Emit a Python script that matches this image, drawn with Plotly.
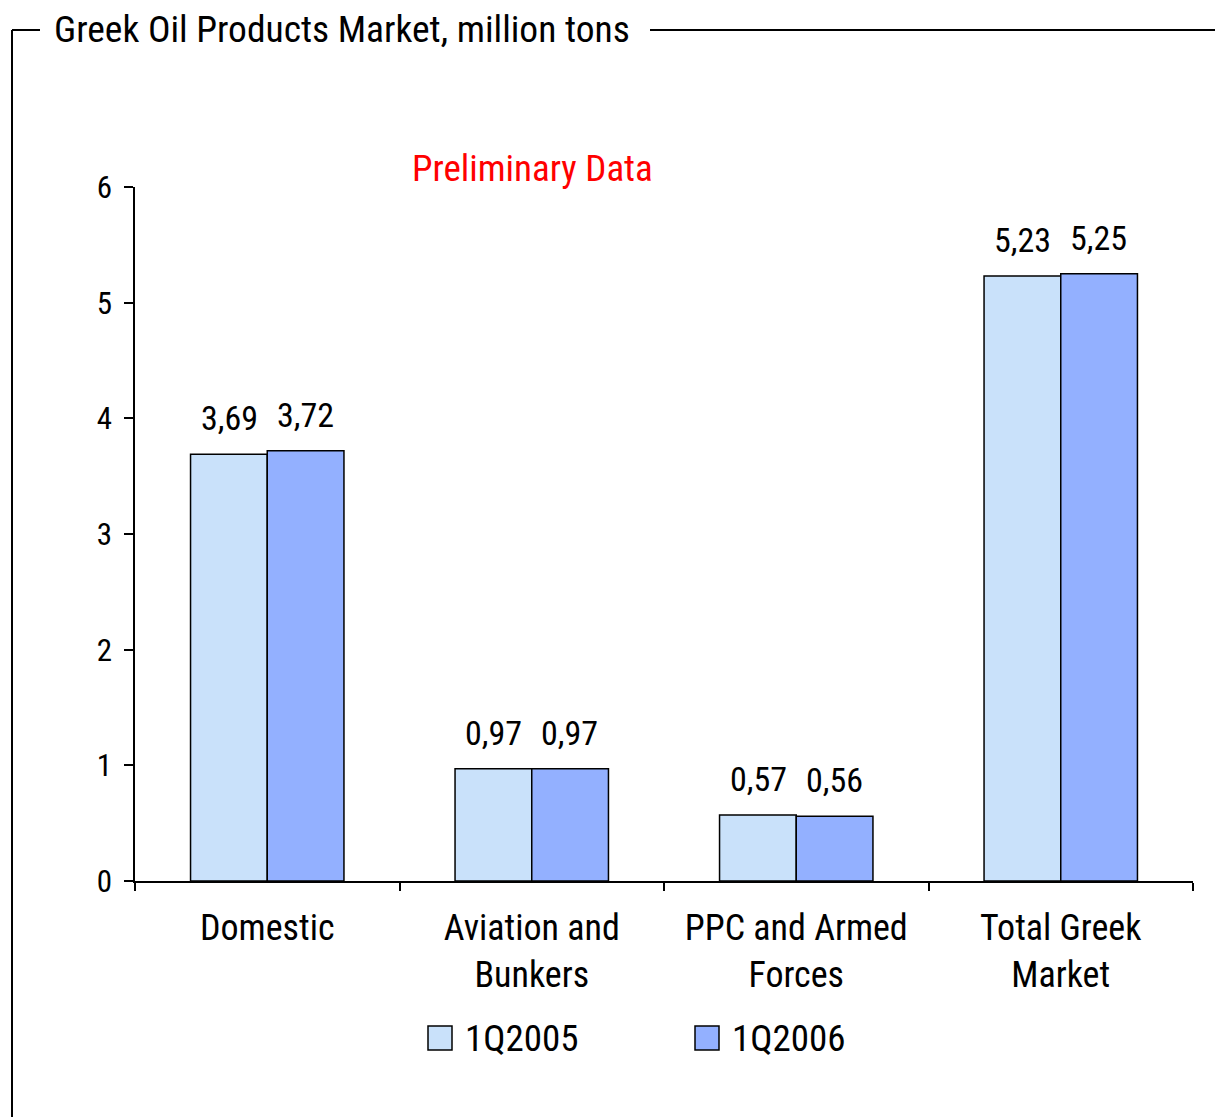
import plotly.graph_objects as go

categories = ["Domestic", "Aviation and<br>Bunkers", "PPC and Armed<br>Forces", "Total Greek<br>Market"]
series_names = ["1Q2005", "1Q2006"]
values_2005 = [3.69, 0.97, 0.57, 5.23]
values_2006 = [3.72, 0.97, 0.56, 5.25]
colors = ["#C9E1FA", "#93B0FF"]
y_ticks = [0, 1, 2, 3, 4, 5, 6]

FONT = "Roboto Condensed, Liberation Sans Narrow, Arial Narrow, sans-serif"
FS = 34

W, H = 1215, 1117
ML, MR, MT, MB = 135, 22, 187, 236
PW, PH = W - ML - MR, H - MT - MB

def px_x(x):
    return (x - ML) / PW

def px_y(y):
    return (H - MB - y) / PH

fig = go.Figure()
for name, vals, col in zip(series_names, [values_2005, values_2006], colors):
    fig.add_trace(go.Bar(
        x=categories, y=vals, name=name, showlegend=False,
        marker=dict(color=col, line=dict(color="black", width=1.5)),
    ))

# value labels
for vals, shift in zip([values_2005, values_2006], [-38, 38]):
    for c, v in zip(categories, vals):
        fig.add_annotation(x=c, y=v, xref="x", yref="y", xshift=shift, yshift=14,
                           text=f"{v:.2f}".replace(".", ","), showarrow=False,
                           yanchor="bottom", font=dict(family=FONT, size=FS, color="black"))

fig.add_annotation(x=px_x(532), y=px_y(168), xref="paper", yref="paper",
                   xanchor="center", yanchor="middle",
                   text="Preliminary Data", showarrow=False,
                   font=dict(family=FONT, size=37, color="#FF0000"))

fig.add_annotation(x=px_x(52), y=px_y(29), xref="paper", yref="paper",
                   xanchor="left", yanchor="middle",
                   text="Greek Oil Products Market, million tons", showarrow=False,
                   font=dict(family=FONT, size=37.5, color="black"))

# manual legend
legend_x = [428, 695]
for name, col, lx in zip(series_names, colors, legend_x):
    fig.add_shape(type="rect", xref="paper", yref="paper",
                  x0=px_x(lx), x1=px_x(lx + 24), y0=px_y(1026), y1=px_y(1050),
                  fillcolor=col, line=dict(color="black", width=1.5))
    fig.add_annotation(x=px_x(lx + 35), y=px_y(1038), xref="paper", yref="paper",
                       xanchor="left", yanchor="middle", text=name, showarrow=False,
                       font=dict(family=FONT, size=37, color="black"))

line = dict(color="black", width=2)
fig.add_shape(type="line", xref="paper", yref="paper", x0=px_x(12), x1=px_x(40), y0=px_y(30), y1=px_y(30), line=line)
fig.add_shape(type="line", xref="paper", yref="paper", x0=px_x(650), x1=px_x(1215), y0=px_y(30), y1=px_y(30), line=line)
fig.add_shape(type="line", xref="paper", yref="paper", x0=px_x(12), x1=px_x(12), y0=px_y(30), y1=px_y(1117), line=line)

fig.update_layout(
    width=W, height=H,
    margin=dict(l=ML, r=MR, t=MT, b=MB),
    paper_bgcolor="white", plot_bgcolor="white",
    barmode="group", bargap=0.42, bargroupgap=0,
    showlegend=False,
    font=dict(family=FONT, size=FS, color="black"),
    xaxis=dict(showline=True, linecolor="black", linewidth=1.5, ticks="outside", tickson="boundaries",
               ticklen=8, tickcolor="black", tickwidth=1.5, showgrid=False,
               tickfont=dict(size=36), ticklabelstandoff=14),
    yaxis=dict(range=[0, 6], tickvals=y_ticks, showline=True, linecolor="black", linewidth=1.5,
               ticks="outside", ticklen=9, tickcolor="black", tickwidth=1.5, showgrid=False,
               zeroline=False, tickfont=dict(size=31), ticklabelstandoff=6),
)

fig.write_html("out.html")
